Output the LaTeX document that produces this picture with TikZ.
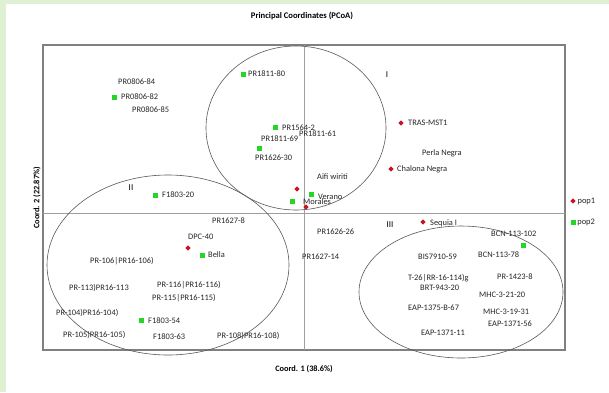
\documentclass[tikz,border=0pt]{standalone}
\usepackage{fontspec}
\setmainfont{Carlito}
\usepackage{tikz}
\usetikzlibrary{shapes.geometric,positioning}
\definecolor{pagegreen}{RGB}{222,241,210}
\definecolor{popred}{RGB}{196,22,32}
\definecolor{popgreen}{RGB}{38,214,38}

\begin{document}
\begin{tikzpicture}[
    x=1pt, y=-1pt,
    lbl/.style={anchor=west, inner sep=0pt, font=\fontsize{8.4}{10}\selectfont, text=black!85},
    pop1/.style={diamond, fill=popred, inner sep=0pt, minimum size=5.5pt},
    pop2/.style={rectangle, fill=popgreen, inner sep=0pt, minimum size=5pt},
    grp/.style={inner sep=0pt, font=\fontsize{9}{10}\selectfont},
    axisline/.style={draw=gray!75, line width=0.6pt},
    hull/.style={draw=black!65, line width=0.6pt}
]
\useasboundingbox (0,0) rectangle (609,392);
\fill[pagegreen] (0,0) rectangle (609,392);
\fill[white] (6,4) rectangle (609,392);

\node[font=\bfseries\fontsize{8.6}{10}\selectfont] (title) at (302,16) {Principal Coordinates (PCoA)};
\draw[draw=gray, line width=1.4pt] (43,45) rectangle (565,350);
\draw[axisline] (304,45) -- (304,350);
\draw[axisline] (43,213) -- (565,213);
\node[font=\bfseries\fontsize{8.3}{10}\selectfont] (xlab) at (304,369) {Coord. 1 (38.6\%)};
\node[font=\bfseries\fontsize{8.3}{10}\selectfont, rotate=90] (ylab) at (37,198) {Coord. 2 (22.87\%)};

% groups
\draw[hull] (296,128) ellipse [x radius=90pt, y radius=82pt];
\draw[hull] (168,265) ellipse [x radius=121pt, y radius=90pt];
\draw[hull] (461,292) ellipse [x radius=102pt, y radius=66pt];
\node[grp] (g1) at (387,75) {I};
\node[grp] (g2) at (131,188) {II};
\node[grp] (g3) at (390,225) {III};

% pop1
\node[pop1] (d1) at (401,123) {};
\node[pop1] (d2) at (391,169) {};
\node[pop1] (d3) at (297,189) {};
\node[pop1] (d4) at (306,207) {};
\node[pop1] (d5) at (188,248) {};
\node[pop1] (d6) at (423,222) {};

% pop2
\node[pop2] (s1) at (114,97) {};
\node[pop2] (s2) at (243,74) {};
\node[pop2] (s3) at (275,127) {};
\node[pop2] (s4) at (259,148) {};
\node[pop2] (s5) at (311,194) {};
\node[pop2] (s6) at (292,201) {};
\node[pop2] (s7) at (155,195) {};
\node[pop2] (s8) at (202,255) {};
\node[pop2] (s9) at (141,320) {};
\node[pop2] (s10) at (523,245) {};

% labels, upper half
\node[lbl] (l1) at (118,82) {PR0806-84};
\node[lbl] (l2) at (121,97) {PR0806-82};
\node[lbl] (l3) at (132,110) {PR0806-85};
\node[lbl] (l4) at (248,74) {PR1811-80};
\node[lbl] (l5) at (282,128) {PR1564-2};
\node[lbl] (l6) at (299,134) {PR1811-61};
\node[lbl] (l7) at (261,139) {PR1811-69};
\node[lbl] (l8) at (255,158) {PR1626-30};
\node[lbl] (l9) at (408,123) {TRAS-MST1};
\node[lbl] (l10) at (422,153) {Perla Negra};
\node[lbl] (l11) at (397,169) {Chalona Negra};
\node[lbl] (l12) at (317,177) {Aifi wiriti};
\node[lbl] (l13) at (318,197) {Verano};
\node[lbl] (l14) at (303,202) {Morales};
\node[lbl] (l15) at (162,195) {F1803-20};

% labels, left lower
\node[lbl] (l16) at (212,221) {PR1627-8};
\node[lbl] (l17) at (188,237) {DPC-40};
\node[lbl] (l18) at (208,255) {Bella};
\node[lbl] (l19) at (90,261) {PR-106|PR16-106)};
\node[lbl] (l20) at (69,288) {PR-113)PR16-113};
\node[lbl] (l21) at (157,285) {PR-116|PR16-116)};
\node[lbl] (l22) at (152,298) {PR-115|PR16-115)};
\node[lbl] (l23) at (56,313) {PR-104)PR16-104)};
\node[lbl] (l24) at (148,321) {F1803-54};
\node[lbl] (l25) at (63,335) {PR-105)PR16-105)};
\node[lbl] (l26) at (153,337) {F1803-63};
\node[lbl] (l27) at (217,336) {PR-108)PR16-108)};

% labels, right lower
\node[lbl] (l28) at (317,232) {PR1626-26};
\node[lbl] (l29) at (302,257) {PR1627-14};
\node[lbl] (l30) at (430,223) {Sequia I};
\node[lbl] (l31) at (491,234) {BCN-113-102};
\node[lbl] (l32) at (418,257) {BIS7910-59};
\node[lbl] (l33) at (478,255) {BCN-113-78};
\node[lbl] (l34) at (408,278) {T-26|RR-16-114)g};
\node[lbl] (l35) at (420,288) {BRT-943-20};
\node[lbl] (l36) at (497,277) {PR-1423-8};
\node[lbl] (l37) at (479,295) {MHC-3-21-20};
\node[lbl] (l38) at (408,308) {EAP-1375-B-67};
\node[lbl] (l39) at (483,312) {MHC-3-19-31};
\node[lbl] (l40) at (488,324) {EAP-1371-56};
\node[lbl] (l41) at (421,333) {EAP-1371-11};

% legend
\node[pop1] (k1) at (573,201) {};
\node[lbl, right=1.5pt of k1] (k1txt) {pop1};
\node[pop2] (k2) at (573,222) {};
\node[lbl, right=1.5pt of k2] (k2txt) {pop2};
\end{tikzpicture}
\end{document}
